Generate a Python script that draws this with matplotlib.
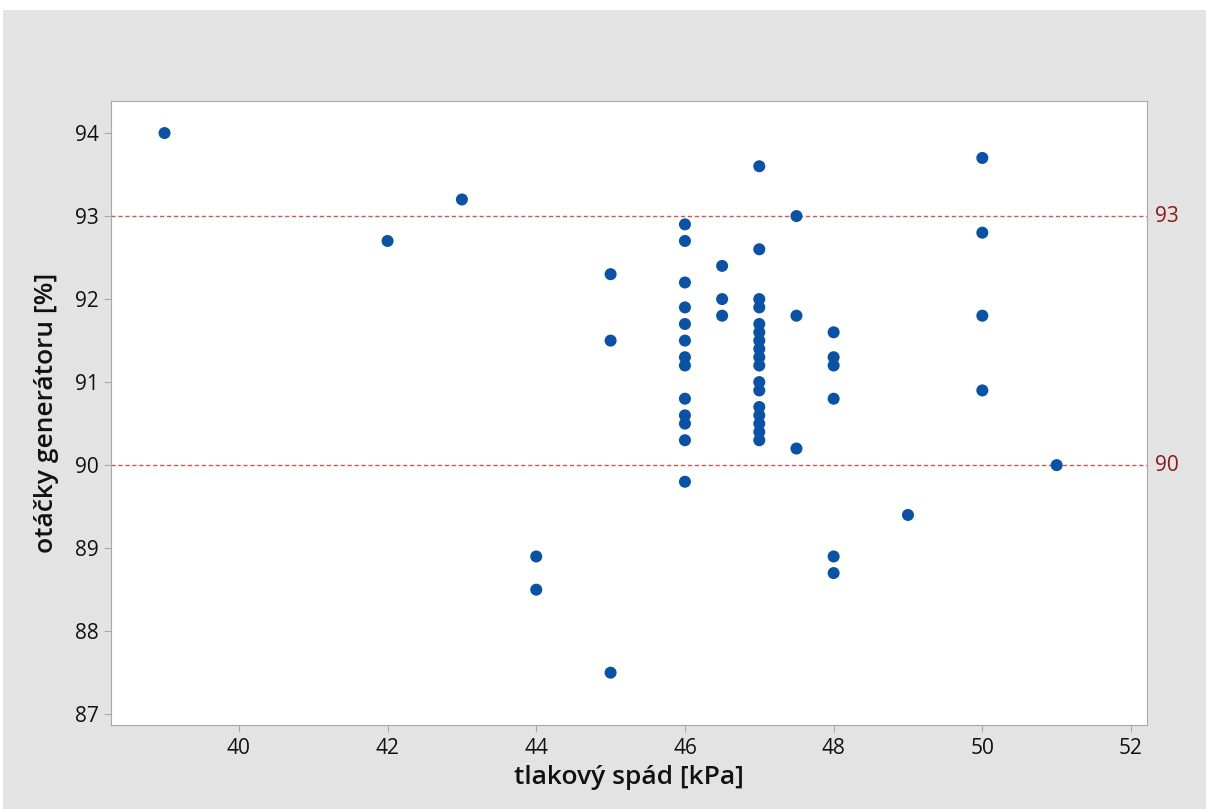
import matplotlib.pyplot as plt
from matplotlib.patches import Rectangle

plt.rcParams['font.family'] = ['Open Sans', 'DejaVu Sans']

# tlakový spád [kPa]
tlak = [39, 42, 43, 44, 44, 45, 45, 45,
        46, 46, 46, 46, 46, 46, 46, 46, 46, 46, 46, 46, 46,
        46.5, 46.5, 46.5,
        47, 47, 47, 47, 47, 47, 47, 47, 47, 47, 47, 47, 47, 47, 47, 47, 47,
        47.5, 47.5, 47.5,
        48, 48, 48, 48, 48, 48,
        49, 50, 50, 50, 50, 51]
# otáčky generátoru [%]
otacky = [94.0, 92.7, 93.2, 88.9, 88.5, 92.3, 91.5, 87.5,
          92.9, 92.7, 92.2, 91.9, 91.7, 91.5, 91.3, 91.2, 90.8, 90.6, 90.5, 90.3, 89.8,
          92.4, 92.0, 91.8,
          93.6, 92.6, 92.0, 91.9, 91.7, 91.6, 91.5, 91.4, 91.3, 91.2, 91.0, 90.9,
          90.7, 90.6, 90.5, 90.4, 90.3,
          93.0, 91.8, 90.2,
          91.6, 91.3, 91.2, 90.8, 88.9, 88.7,
          89.4, 93.7, 92.8, 91.8, 90.9, 90.0]
ref_lines = [93, 90]

fig = plt.figure(figsize=(12.06, 8.09), dpi=100, facecolor='#e3e3e3')
# bílý okraj nahoře a vlevo
fig.patches.append(Rectangle((0, 1 - 10 / 809), 1, 10 / 809, transform=fig.transFigure,
                             facecolor='white', edgecolor='none', zorder=0))
fig.patches.append(Rectangle((0, 0), 3 / 1206, 1, transform=fig.transFigure,
                             facecolor='white', edgecolor='none', zorder=0))

ax = fig.add_axes([111 / 1206, 1 - 725 / 809, (1147 - 111) / 1206, (725 - 101) / 809])
ax.set_facecolor('white')

ax.scatter(tlak, otacky, s=75, color='#0a52a5', edgecolors='none', zorder=3)

for v in ref_lines:
    ax.axhline(v, color='#e05050', linestyle=(0, (3, 2)), linewidth=1.0, zorder=2)
    ax.text(52.215 + 0.11, v, str(v), color='#8b1a1a', fontsize=15,
            va='center', ha='left', clip_on=False)

ax.set_xlim(38.28, 52.215)
ax.set_ylim(86.87, 94.386)
ax.set_xticks([40, 42, 44, 46, 48, 50, 52])
ax.set_yticks([87, 88, 89, 90, 91, 92, 93, 94])

for s in ax.spines.values():
    s.set_color('#a8a8a8')
ax.tick_params(colors='#a8a8a8', labelcolor='#111111', labelsize=15, length=5, pad=4)

ax.set_xlabel('tlakový spád [kPa]', fontsize=19, fontweight='semibold',
              color='#111111', labelpad=5)
ax.set_ylabel('otáčky generátoru [%]', fontsize=19, fontweight='semibold',
              color='#111111', labelpad=11)

fig.savefig('out.png', dpi=100, facecolor=fig.get_facecolor())
